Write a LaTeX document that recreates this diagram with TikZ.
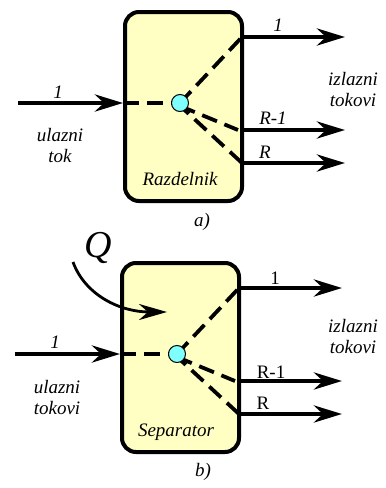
\documentclass[tikz,border=0pt]{standalone}
\usepackage{fontspec}
\setmainfont{Liberation Serif}
\usetikzlibrary{arrows.meta}
\definecolor{boxfill}{RGB}{255,255,196}
\definecolor{dotfill}{RGB}{128,255,255}
\begin{document}
\begin{tikzpicture}[x=1pt,y=-1pt,
  unitbox/.style={draw, line width=4pt, fill=boxfill, rounded corners=14pt,
    minimum width=117pt, minimum height=189pt, inner sep=0pt},
  flow/.style={line width=4.5pt, -{Stealth[length=28pt,width=17pt,inset=9pt]}},
  heatflow/.style={line width=2.8pt, -{Stealth[length=28pt,width=16pt,inset=9pt]}},
  dashline/.style={line width=3.8pt, dash pattern=on 16pt off 8pt},
  junction/.style={circle, draw, line width=1pt, fill=dotfill, minimum size=17pt, inner sep=0pt},
  lbl/.style={font=\fontsize{19}{21}\selectfont\itshape, inner sep=0pt},
  ulbl/.style={font=\fontsize{19}{21}\selectfont, inner sep=0pt}]
\useasboundingbox (0,0) rectangle (386,488);

% ---------- a) ----------
\node[unitbox] (boxA) at (183.5,106.5) {};
\coordinate (cA) at (180,103);
\coordinate (inA) at (18,103);
\coordinate (oA1) at (242,37);
\coordinate (oA2) at (242,130);
\coordinate (oA3) at (242,163);
\coordinate (eA1) at (345,37);
\coordinate (eA2) at (345,130);
\coordinate (eA3) at (345,163);
\draw[dashline] (inA -| boxA.west) -- (cA);
\draw[dashline] (cA) -- (oA1);
\draw[dashline] ([yshift=-3pt]cA) -- ([xshift=-4pt]oA2);
\draw[dashline] ([xshift=-3pt]cA) -- (oA3);
\node[junction] (dotA) at (cA) {};
\draw[flow] (inA) -- (inA -| boxA.west);
\draw[flow] (oA1) -- (eA1);
\draw[flow] (oA2) -- (eA2);
\draw[flow] (oA3) -- (eA3);
\node[lbl] (inlblA) at (58,92) {1};
\node[lbl, align=center] (intextA) at (60,145) {ulazni\\tok};
\node[lbl] (l1A) at (278,25) {1};
\node[lbl] (l2A) at (273,118) {R-1};
\node[lbl] (l3A) at (265,152) {R};
\node[lbl, align=center] (outtextA) at (353,89) {izlazni\\tokovi};
\node[lbl] (nameA) at (180,179) {Razdelnik};
\node[lbl] (capA) at (202,222) {a)};

% ---------- b) ----------
\node[unitbox] (boxB) at (180.5,357.5) {};
\coordinate (cB) at (177,354);
\coordinate (inB) at (15,354);
\coordinate (oB1) at (239,288);
\coordinate (oB2) at (239,381);
\coordinate (oB3) at (239,414);
\coordinate (eB1) at (342,288);
\coordinate (eB2) at (342,381);
\coordinate (eB3) at (342,414);
\draw[dashline] (inB -| boxB.west) -- (cB);
\draw[dashline] (cB) -- (oB1);
\draw[dashline] ([yshift=-3pt]cB) -- ([xshift=-4pt]oB2);
\draw[dashline] ([xshift=-3pt]cB) -- (oB3);
\node[junction] (dotB) at (cB) {};
\draw[flow] (inB) -- (inB -| boxB.west);
\draw[flow] (oB1) -- (eB1);
\draw[flow] (oB2) -- (eB2);
\draw[flow] (oB3) -- (eB3);
\coordinate (qs) at (73,262);
\coordinate (qe) at (167,312);
\draw[heatflow] (qs) .. controls (85,295) and (120,312) .. (qe);
\node[font=\fontsize{38}{40}\selectfont\itshape, inner sep=0pt] (qlbl) at (98,248) {Q};
\node[lbl] (inlblB) at (55,342) {1};
\node[lbl, align=center] (intextB) at (57,397) {ulazni\\tokovi};
\node[ulbl] (l1B) at (275,278) {1};
\node[ulbl] (l2B) at (271,372) {R-1};
\node[ulbl] (l3B) at (263,403) {R};
\node[lbl, align=center] (outtextB) at (353,336) {izlazni\\tokovi};
\node[lbl] (nameB) at (176,432) {Separator};
\node[lbl] (capB) at (203,472) {b)};
\end{tikzpicture}
\end{document}
